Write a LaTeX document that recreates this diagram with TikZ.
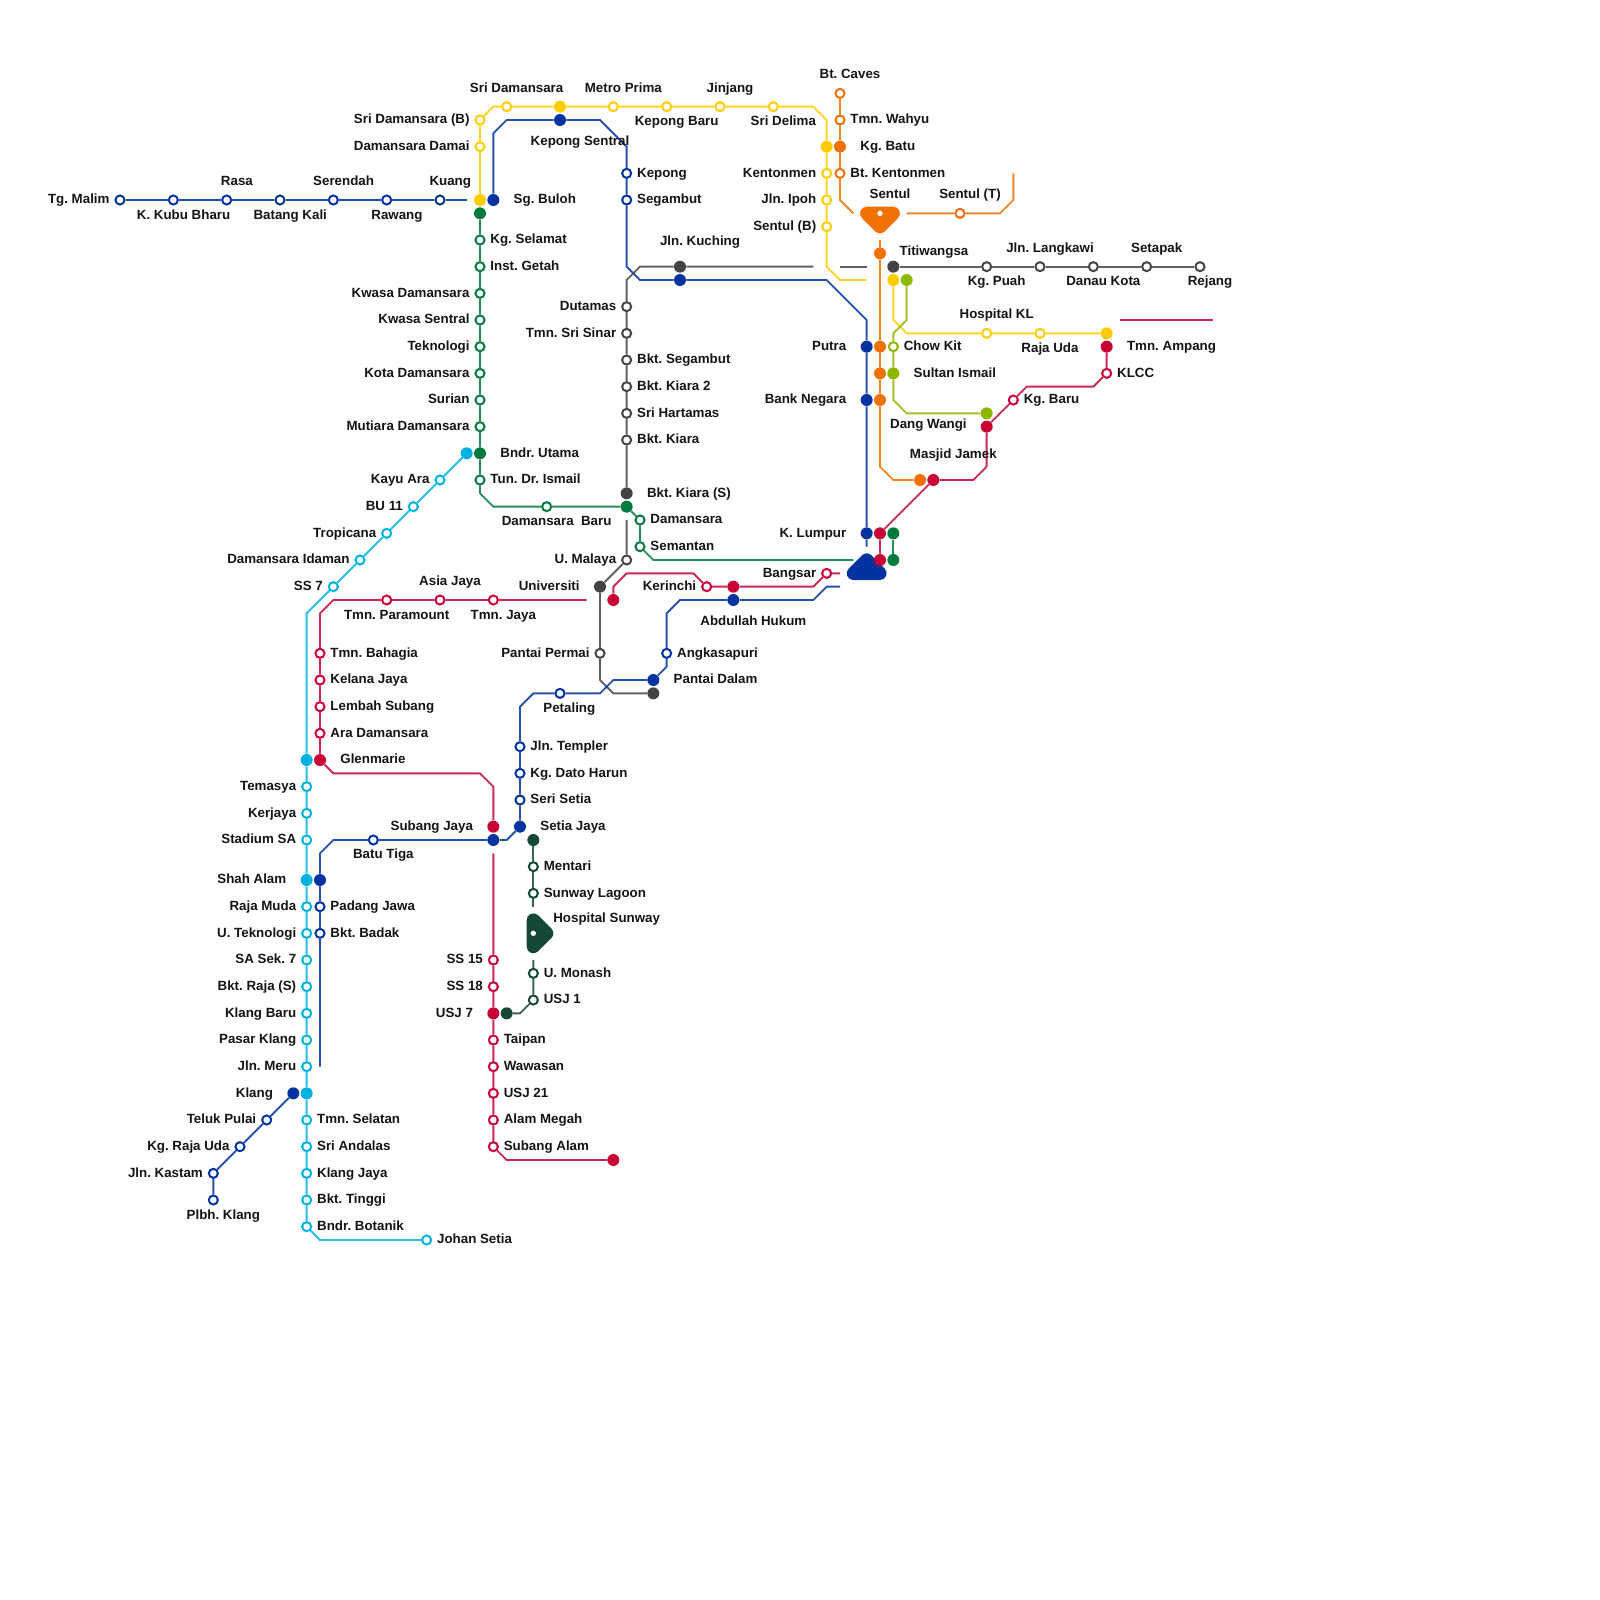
\documentclass[tikz,border=0pt]{standalone}
\usepackage{fontspec}
\setmainfont{Liberation Sans}
\frenchspacing
\usepackage{tikz}
\usetikzlibrary{positioning}
\definecolor{colBlue}{RGB}{0,51,160}
\definecolor{colYellow}{RGB}{255,204,0}
\definecolor{colOrange}{RGB}{240,112,0}
\definecolor{colGreen}{RGB}{0,122,61}
\definecolor{colRed}{RGB}{200,0,54}
\definecolor{colCyan}{RGB}{0,178,227}
\definecolor{colGrey}{RGB}{68,68,68}
\definecolor{colLime}{RGB}{140,184,0}
\definecolor{colForest}{RGB}{20,72,52}
\tikzset{
  ring/.style   = {circle, draw=#1, fill=white, line width=1.5pt,
                   minimum size=6.8pt, inner sep=0pt},
  fdot/.style   = {circle, fill=#1, minimum size=9pt, inner sep=0pt},
  route/.style  = {draw=#1, line width=1.4pt, draw opacity=0.85},
  hub/.style    = {draw=#1, fill=#1, line width=10pt, line join=round},
  hubdot/.style = {circle, fill=white, minimum size=4pt, inner sep=0pt},
  txt/.style    = {font=\bfseries\fontsize{10}{10}\selectfont, text=black!92,
                   inner sep=0pt, outer sep=0pt, text height=7.5pt,
                   text depth=2pt},
}
\begin{document}
\begin{tikzpicture}[x=10pt, y=-10pt]
\useasboundingbox (0,0) rectangle (120,120);

%% Interchange shapes
\draw[hub=colOrange] (65,16) -- (67,16) -- (66,17) -- cycle;
\draw[hub=colBlue]   (64,43) -- (66,43) -- (65,42) -- cycle;
\draw[hub=colForest] (40,69) -- (40,71) -- (41,70) -- cycle;
\node[hubdot] (sentulhub) at (66,16) {};
\node[hubdot] (sunwayhub) at (40,70) {};

%% Tg. Malim branch
\node[ring=colBlue] (tgmalim)  at (9,15)  {};
\node[ring=colBlue] (kkubu)    at (13,15) {};
\node[ring=colBlue] (rasa)     at (17,15) {};
\node[ring=colBlue] (batang)   at (21,15) {};
\node[ring=colBlue] (serendah) at (25,15) {};
\node[ring=colBlue] (rawang)   at (29,15) {};
\node[ring=colBlue] (kuang)    at (33,15) {};
\coordinate (kuangend) at (35,15);

%% Yellow line
\node[fdot=colYellow] (sgbulohY)  at (36,15) {};
\node[ring=colYellow] (damdamai)  at (36,11) {};
\node[ring=colYellow] (sridamb)   at (36,9)  {};
\node[ring=colYellow] (srigreen)  at (38,8)  {};
\node[fdot=colYellow] (sridam)    at (42,8)  {};
\node[ring=colYellow] (metro)     at (46,8)  {};
\node[ring=colYellow] (kepbaru)   at (50,8)  {};
\node[ring=colYellow] (jinjang)   at (54,8)  {};
\node[ring=colYellow] (delima)    at (58,8)  {};
\node[fdot=colYellow] (kgbatuY)   at (62,11) {};
\node[ring=colYellow] (kenton)    at (62,13) {};
\node[ring=colYellow] (ipoh)      at (62,15) {};
\node[ring=colYellow] (sentulb)   at (62,17) {};
\coordinate (yellowend) at (65,21);
\node[fdot=colYellow] (titiY)     at (67,21) {};
\node[ring=colYellow] (hospkl)    at (74,25) {};
\node[ring=colYellow] (rajauda)   at (78,25) {};
\node[fdot=colYellow] (ampangY)   at (83,25) {};

%% Kepong line
\node[fdot=colBlue] (sgbulohB) at (37,15) {};
\node[fdot=colBlue] (kepsen)   at (42,9)  {};
\node[ring=colBlue] (kepong)   at (47,13) {};
\node[ring=colBlue] (segambut) at (47,15) {};
\node[fdot=colBlue] (kuchingB) at (51,21) {};
\node[fdot=colBlue] (putraB)   at (65,26) {};
\node[fdot=colBlue] (negaraB)  at (65,30) {};
\node[fdot=colBlue] (lumpurB)  at (65,40) {};
\coordinate (blueend) at (65,41);

%% Grey line
\node[fdot=colGrey] (kuchingK) at (51,20) {};
\node[ring=colGrey] (dutamas)  at (47,23) {};
\node[ring=colGrey] (srisinar) at (47,25) {};
\node[ring=colGrey] (bktseg)   at (47,27) {};
\node[ring=colGrey] (kiaradua) at (47,29) {};
\node[ring=colGrey] (hartamas) at (47,31) {};
\node[ring=colGrey] (kiara)    at (47,33) {};
\node[fdot=colGrey] (kiaras)   at (47,37) {};
\coordinate (greyend)  at (61,20);
\coordinate (greygapa) at (63,20);
\coordinate (greygapb) at (65,20);
\coordinate (greytop)  at (47,39);
\node[ring=colGrey] (umalaya)  at (47,42) {};
\node[fdot=colGrey] (univ)     at (45,44) {};
\node[ring=colGrey] (ppermai)  at (45,49) {};
\node[fdot=colGrey] (pdalamK)  at (49,52) {};
\node[fdot=colGrey] (titiK)    at (67,20) {};
\node[ring=colGrey] (kgpuah)   at (74,20) {};
\node[ring=colGrey] (langkawi) at (78,20) {};
\node[ring=colGrey] (danau)    at (82,20) {};
\node[ring=colGrey] (setapak)  at (86,20) {};
\node[ring=colGrey] (rejang)   at (90,20) {};

%% Green line
\node[fdot=colGreen] (sgbulohG) at (36,16) {};
\node[ring=colGreen] (selamat)  at (36,18) {};
\node[ring=colGreen] (getah)    at (36,20) {};
\node[ring=colGreen] (kwasad)   at (36,22) {};
\node[ring=colGreen] (kwasas)   at (36,24) {};
\node[ring=colGreen] (teknologi) at (36,26) {};
\node[ring=colGreen] (kotad)    at (36,28) {};
\node[ring=colGreen] (surian)   at (36,30) {};
\node[ring=colGreen] (mutiara)  at (36,32) {};
\node[fdot=colGreen] (bndrG)    at (36,34) {};
\node[ring=colGreen] (tunismail) at (36,36) {};
\node[ring=colGreen] (dambaru)  at (41,38) {};
\node[fdot=colGreen] (kiarasG)  at (47,38) {};
\node[ring=colGreen] (damansara) at (48,39) {};
\node[ring=colGreen] (semantan) at (48,41) {};
\coordinate (greenend) at (64,42);
\node[fdot=colGreen] (lumpurG)  at (67,40) {};
\node[fdot=colGreen] (lumpurH)  at (67,42) {};

%% Red line
\node[fdot=colRed] (ampangR)  at (83,26) {};
\node[ring=colRed] (klcc)     at (83,28) {};
\node[ring=colRed] (kgbaru)   at (76,30) {};
\node[fdot=colRed] (wangiR)   at (74,32) {};
\node[fdot=colRed] (jamekR)   at (70,36) {};
\node[fdot=colRed] (lumpurR)  at (66,40) {};
\node[fdot=colRed] (lumpurS)  at (66,42) {};
\coordinate (redstuba) at (84,24);
\coordinate (redstubb) at (91,24);
\coordinate (bangsarend) at (63,43);
\node[ring=colRed] (bangsar)  at (62,43) {};
\node[fdot=colRed] (hukumR)   at (55,44) {};
\node[ring=colRed] (kerinchi) at (53,44) {};
\node[fdot=colRed] (univR)    at (46,45) {};
\coordinate (univend) at (44,45);
\node[ring=colRed] (tmnjaya)  at (37,45) {};
\node[ring=colRed] (asiajaya) at (33,45) {};
\node[ring=colRed] (paramount) at (29,45) {};
\node[ring=colRed] (bahagia)  at (24,49) {};
\node[ring=colRed] (kelana)   at (24,51) {};
\node[ring=colRed] (lembah)   at (24,53) {};
\node[ring=colRed] (aradam)   at (24,55) {};
\node[fdot=colRed] (glenmarie) at (24,57) {};
\node[fdot=colRed] (subangR)  at (37,62) {};
\coordinate (redgap) at (37,64);
\node[ring=colRed] (ssff)     at (37,72) {};
\node[ring=colRed] (sse)      at (37,74) {};
\node[fdot=colRed] (usjs)     at (37,76) {};
\node[ring=colRed] (taipan)   at (37,78) {};
\node[ring=colRed] (wawasan)  at (37,80) {};
\node[ring=colRed] (usjto)    at (37,82) {};
\node[ring=colRed] (megah)    at (37,84) {};
\node[ring=colRed] (subalam)  at (37,86) {};
\node[fdot=colRed] (putraR)   at (46,87) {};

%% Kelana line
\coordinate (hukumend) at (63,44);
\node[fdot=colBlue] (hukumB)  at (55,45) {};
\node[ring=colBlue] (angkasa) at (50,49) {};
\node[fdot=colBlue] (pdalamB) at (49,51) {};
\node[ring=colBlue] (petaling) at (42,52) {};
\node[ring=colBlue] (templer) at (39,56) {};
\node[ring=colBlue] (harun)   at (39,58) {};
\node[ring=colBlue] (seri)    at (39,60) {};
\node[fdot=colBlue] (setia)   at (39,62) {};
\node[fdot=colBlue] (subangB) at (37,63) {};
\node[ring=colBlue] (batutiga) at (28,63) {};
\node[fdot=colBlue] (shahB)   at (24,66) {};
\node[ring=colBlue] (padang)  at (24,68) {};
\node[ring=colBlue] (badak)   at (24,70) {};
\coordinate (kelanaend) at (24,80);

%% Klang branch
\node[fdot=colBlue] (klangB)  at (22,82) {};
\node[ring=colBlue] (teluk)   at (20,84) {};
\node[ring=colBlue] (rajaudaB) at (18,86) {};
\node[ring=colBlue] (kastam)  at (16,88) {};
\node[ring=colBlue] (plbh)    at (16,90) {};

%% Cyan line
\node[fdot=colCyan] (bndrC)   at (35,34) {};
\node[ring=colCyan] (kayuara) at (33,36) {};
\node[ring=colCyan] (buse)    at (31,38) {};
\node[ring=colCyan] (tropicana) at (29,40) {};
\node[ring=colCyan] (idaman)  at (27,42) {};
\node[ring=colCyan] (sss)     at (25,44) {};
\node[fdot=colCyan] (glenC)   at (23,57) {};
\node[ring=colCyan] (temasya) at (23,59) {};
\node[ring=colCyan] (kerjaya) at (23,61) {};
\node[ring=colCyan] (stadium) at (23,63) {};
\node[fdot=colCyan] (shahC)   at (23,66) {};
\node[ring=colCyan] (muda)    at (23,68) {};
\node[ring=colCyan] (uteknologi) at (23,70) {};
\node[ring=colCyan] (sasek)   at (23,72) {};
\node[ring=colCyan] (bktraja) at (23,74) {};
\node[ring=colCyan] (klbaru)  at (23,76) {};
\node[ring=colCyan] (pasar)   at (23,78) {};
\node[ring=colCyan] (meru)    at (23,80) {};
\node[fdot=colCyan] (klangC)  at (23,82) {};
\node[ring=colCyan] (selatan) at (23,84) {};
\node[ring=colCyan] (andalas) at (23,86) {};
\node[ring=colCyan] (kljaya)  at (23,88) {};
\node[ring=colCyan] (tinggi)  at (23,90) {};
\node[ring=colCyan] (botanik) at (23,92) {};
\node[ring=colCyan] (johan)   at (32,93) {};

%% Sunway line
\node[fdot=colForest] (setiaF)  at (40,63) {};
\node[ring=colForest] (mentari) at (40,65) {};
\node[ring=colForest] (lagoon)  at (40,67) {};
\coordinate (sunwaytop) at (40,68);
\coordinate (sunwaylow) at (40,72);
\node[ring=colForest] (monash)  at (40,73) {};
\node[ring=colForest] (usjone)  at (40,75) {};
\node[fdot=colForest] (usjF)    at (38,76) {};

%% Orange line
\node[ring=colOrange] (caves)   at (63,7)  {};
\node[ring=colOrange] (wahyu)   at (63,9)  {};
\node[fdot=colOrange] (kgbatu)  at (63,11) {};
\node[ring=colOrange] (bktkent) at (63,13) {};
\coordinate (hubwest)  at (64,16);
\coordinate (hubeast)  at (68,16);
\node[ring=colOrange] (sentult) at (72,16) {};
\coordinate (sentulend) at (76,13);
\coordinate (hubsouth) at (66,18);
\node[fdot=colOrange] (titiO)   at (66,19) {};
\node[fdot=colOrange] (putraO)  at (66,26) {};
\node[fdot=colOrange] (ismailO) at (66,28) {};
\node[fdot=colOrange] (negaraO) at (66,30) {};
\node[fdot=colOrange] (jamekO)  at (69,36) {};

%% Lime line
\node[fdot=colLime] (titiL)   at (68,21) {};
\node[ring=colLime] (chowkit) at (67,26) {};
\node[fdot=colLime] (ismailL) at (67,28) {};
\node[fdot=colLime] (wangiL)  at (74,31) {};

%% Routes
\draw[route=colBlue] (tgmalim) -- (kkubu) -- (rasa) -- (batang) -- (serendah)
  -- (rawang) -- (kuang) -- (kuangend);
\draw[route=colYellow] (sgbulohY) -- (damdamai) -- (sridamb) -- (37,8) -- (srigreen)
  -- (sridam) -- (metro) -- (kepbaru) -- (jinjang) -- (delima) -- (61,8) -- (62,9)
  -- (kgbatuY) -- (kenton) -- (ipoh) -- (sentulb) -- (62,20) -- (63,21) -- (yellowend);
\draw[route=colYellow] (titiY) -- (67,24) -- (68,25) -- (hospkl) -- (rajauda) -- (ampangY);
\draw[route=colBlue] (sgbulohB) -- (37,10) -- (38,9) -- (kepsen) -- (45,9) -- (47,11)
  -- (kepong) -- (segambut) -- (47,20) -- (48,21) -- (kuchingB) -- (62,21) -- (65,24)
  -- (putraB) -- (negaraB) -- (lumpurB) -- (blueend);
\draw[route=colGrey] (greyend) -- (kuchingK) -- (48,20) -- (47,21) -- (dutamas)
  -- (srisinar) -- (bktseg) -- (kiaradua) -- (hartamas) -- (kiara) -- (kiaras);
\draw[route=colGrey] (greygapa) -- (greygapb);
\draw[route=colGrey] (greytop) -- (umalaya) -- (univ) -- (ppermai) -- (45,51) -- (46,52)
  -- (pdalamK);
\draw[route=colGrey] (titiK) -- (kgpuah) -- (langkawi) -- (danau) -- (setapak) -- (rejang);
\draw[route=colGreen] (sgbulohG) -- (selamat) -- (getah) -- (kwasad) -- (kwasas)
  -- (teknologi) -- (kotad) -- (surian) -- (mutiara) -- (bndrG) -- (tunismail)
  -- (36,37) -- (37,38) -- (dambaru) -- (kiarasG) -- (damansara) -- (semantan)
  -- (49,42) -- (greenend);
\draw[route=colGreen] (lumpurG) -- (lumpurH);
\draw[route=colRed] (ampangR) -- (klcc) -- (82,29) -- (77,29) -- (kgbaru) -- (wangiR)
  -- (74,35) -- (73,36) -- (jamekR) -- (lumpurR) -- (lumpurS);
\draw[route=colRed] (redstuba) -- (redstubb);
\draw[route=colRed] (bangsarend) -- (bangsar) -- (61,44) -- (hukumR) -- (kerinchi)
  -- (52,43) -- (47,43) -- (46,44) -- (univR);
\draw[route=colRed] (univend) -- (tmnjaya) -- (asiajaya) -- (paramount) -- (25,45)
  -- (24,46) -- (bahagia) -- (kelana) -- (lembah) -- (aradam) -- (glenmarie) -- (25,58)
  -- (36,58) -- (37,59) -- (subangR);
\draw[route=colRed] (redgap) -- (ssff) -- (sse) -- (usjs) -- (taipan) -- (wawasan)
  -- (usjto) -- (megah) -- (subalam) -- (38,87) -- (putraR);
\draw[route=colBlue] (hukumend) -- (62,44) -- (61,45) -- (hukumB) -- (51,45) -- (50,46)
  -- (angkasa) -- (50,50) -- (pdalamB) -- (46,51) -- (45,52) -- (petaling) -- (40,52)
  -- (39,53) -- (templer) -- (harun) -- (seri) -- (setia) -- (38,63) -- (subangB)
  -- (batutiga) -- (25,63) -- (24,64) -- (shahB) -- (padang) -- (badak) -- (kelanaend);
\draw[route=colBlue] (klangB) -- (teluk) -- (rajaudaB) -- (kastam) -- (plbh);
\draw[route=colCyan] (bndrC) -- (kayuara) -- (buse) -- (tropicana) -- (idaman) -- (sss)
  -- (23,46) -- (glenC) -- (temasya) -- (kerjaya) -- (stadium) -- (shahC) -- (muda)
  -- (uteknologi) -- (sasek) -- (bktraja) -- (klbaru) -- (pasar) -- (meru) -- (klangC)
  -- (selatan) -- (andalas) -- (kljaya) -- (tinggi) -- (botanik) -- (24,93) -- (johan);
\draw[route=colForest] (setiaF) -- (mentari) -- (lagoon) -- (sunwaytop);
\draw[route=colForest] (sunwaylow) -- (monash) -- (usjone) -- (39,76) -- (usjF);
\draw[route=colOrange] (caves) -- (wahyu) -- (kgbatu) -- (bktkent) -- (63,15) -- (hubwest);
\draw[route=colOrange] (hubeast) -- (sentult) -- (75,16) -- (76,15) -- (sentulend);
\draw[route=colOrange] (hubsouth) -- (titiO) -- (putraO) -- (ismailO) -- (negaraO)
  -- (66,35) -- (67,36) -- (jamekO);
\draw[route=colLime] (titiL) -- (68,24) -- (67,25) -- (chowkit) -- (ismailL) -- (67,30)
  -- (68,31) -- (wangiL);

%% Labels, right
\node[txt, right=3.7pt of selamat]   (tselamat)  {Kg. Selamat};
\node[txt, right=3.7pt of getah]     (tgetah)    {Inst. Getah};
\node[txt, right=3.7pt of tunismail] (ttun)      {Tun. Dr. Ismail};
\node[txt, right=3.7pt of kepong]    (tkepong)   {Kepong};
\node[txt, right=3.7pt of segambut]  (tsegambut) {Segambut};
\node[txt, right=3.7pt of bktseg]    (tbktseg)   {Bkt. Segambut};
\node[txt, right=3.7pt of kiaradua]  (tkiaradua) {Bkt. Kiara 2};
\node[txt, right=3.7pt of hartamas]  (thartamas) {Sri Hartamas};
\node[txt, right=3.7pt of kiara]     (tkiara)    {Bkt. Kiara};
\node[txt, right=3.7pt of damansara] (tdamansara) {Damansara};
\node[txt, right=3.7pt of semantan]  (tsemantan) {Semantan};
\node[txt, right=3.7pt of wahyu]     (twahyu)    {Tmn. Wahyu};
\node[txt, right=3.7pt of bktkent]   (tbktkent)  {Bt. Kentonmen};
\node[txt, right=3.7pt of chowkit]   (tchowkit)  {Chow Kit};
\node[txt, right=3.7pt of klcc]      (tklcc)     {KLCC};
\node[txt, right=3.7pt of kgbaru]    (tkgbaru)   {Kg. Baru};
\node[txt, right=3.7pt of angkasa]   (tangkasa)  {Angkasapuri};
\node[txt, right=3.7pt of templer]   (ttempler)  {Jln. Templer};
\node[txt, right=3.7pt of harun]     (tharun)    {Kg. Dato Harun};
\node[txt, right=3.7pt of seri]      (tseri)     {Seri Setia};
\node[txt, right=3.7pt of mentari]   (tmentari)  {Mentari};
\node[txt, right=3.7pt of lagoon]    (tlagoon)   {Sunway Lagoon};
\node[txt, right=3.7pt of monash]    (tmonash)   {U. Monash};
\node[txt, right=3.7pt of usjone]    (tusjone)   {USJ 1};
\node[txt, right=3.7pt of padang]    (tpadang)   {Padang Jawa};
\node[txt, right=3.7pt of badak]     (tbadak)    {Bkt. Badak};
\node[txt, right=3.7pt of taipan]    (ttaipan)   {Taipan};
\node[txt, right=3.7pt of wawasan]   (twawasan)  {Wawasan};
\node[txt, right=3.7pt of usjto]     (tusjto)    {USJ 21};
\node[txt, right=3.7pt of megah]     (tmegah)    {Alam Megah};
\node[txt, right=3.7pt of subalam]   (tsubalam)  {Subang Alam};
\node[txt, right=3.7pt of selatan]   (tselatan)  {Tmn. Selatan};
\node[txt, right=3.7pt of andalas]   (tandalas)  {Sri Andalas};
\node[txt, right=3.7pt of kljaya]    (tkljaya)   {Klang Jaya};
\node[txt, right=3.7pt of tinggi]    (ttinggi)   {Bkt. Tinggi};
\node[txt, right=3.7pt of botanik]   (tbotanik)  {Bndr. Botanik};
\node[txt, right=3.7pt of johan]     (tjohan)    {Johan Setia};
\node[txt, right=3.7pt of bahagia]   (tbahagia)  {Tmn. Bahagia};
\node[txt, right=3.7pt of kelana]    (tkelana)   {Kelana Jaya};
\node[txt, right=3.7pt of lembah]    (tlembah)   {Lembah Subang};
\node[txt, right=3.7pt of aradam]    (taradam)   {Ara Damansara};
\node[txt, right=10.6pt of sgbulohB] (tsgbuloh) {Sg. Buloh};
\node[txt, right=10.6pt of bndrG]    (tbndr)    {Bndr. Utama};
\node[txt, right=10.6pt of kiaras]   (tkiaras)  {Bkt. Kiara (S)};
\node[txt, right=10.6pt of kgbatu]   (tkgbatu)  {Kg. Batu};
\node[txt, right=10.6pt of ampangR]  (tampang)  {Tmn. Ampang};
\node[txt, right=10.6pt of ismailL]  (tismail)  {Sultan Ismail};
\node[txt, right=10.6pt of setia]    (tsetia)   {Setia Jaya};
\node[txt, right=10.6pt of glenmarie] (tglen)   {Glenmarie};
\node[txt, right=10.6pt of pdalamB]  (tpdalam)  {Pantai Dalam};

%% Labels, left
\node[txt, left=3.7pt of tgmalim]   (ttgmalim)  {Tg. Malim};
\node[txt, left=3.7pt of sridamb]   (tsridamb)  {Sri Damansara (B)};
\node[txt, left=3.7pt of damdamai]  (tdamdamai) {Damansara Damai};
\node[txt, left=3.7pt of kenton]    (tkenton)   {Kentonmen};
\node[txt, left=3.7pt of ipoh]      (tipoh)     {Jln. Ipoh};
\node[txt, left=3.7pt of sentulb]   (tsentulb)  {Sentul (B)};
\node[txt, left=3.7pt of kwasad]    (tkwasad)   {Kwasa Damansara};
\node[txt, left=3.7pt of kwasas]    (tkwasas)   {Kwasa Sentral};
\node[txt, left=3.7pt of teknologi] (tteknologi) {Teknologi};
\node[txt, left=3.7pt of kotad]     (tkotad)    {Kota Damansara};
\node[txt, left=3.7pt of surian]    (tsurian)   {Surian};
\node[txt, left=3.7pt of mutiara]   (tmutiara)  {Mutiara Damansara};
\node[txt, left=3.7pt of dutamas]   (tdutamas)  {Dutamas};
\node[txt, left=3.7pt of srisinar]  (tsrisinar) {Tmn. Sri Sinar};
\node[txt, left=3.7pt of umalaya]   (tumalaya)  {U. Malaya};
\node[txt, left=3.7pt of kayuara]   (tkayuara)  {Kayu Ara};
\node[txt, left=3.7pt of buse]      (tbuse)     {BU 11};
\node[txt, left=3.7pt of tropicana] (ttropicana) {Tropicana};
\node[txt, left=3.7pt of idaman]    (tidaman)   {Damansara Idaman};
\node[txt, left=3.7pt of sss]       (tsss)      {SS 7};
\node[txt, left=3.7pt of ppermai]   (tppermai)  {Pantai Permai};
\node[txt, left=3.7pt of kerinchi]  (tkerinchi) {Kerinchi};
\node[txt, left=3.7pt of bangsar]   (tbangsar)  {Bangsar};
\node[txt, left=3.7pt of temasya]   (ttemasya)  {Temasya};
\node[txt, left=3.7pt of kerjaya]   (tkerjaya)  {Kerjaya};
\node[txt, left=3.7pt of stadium]   (tstadium)  {Stadium SA};
\node[txt, left=3.7pt of muda]      (tmuda)     {Raja Muda};
\node[txt, left=3.7pt of uteknologi] (tuteknologi) {U. Teknologi};
\node[txt, left=3.7pt of sasek]     (tsasek)    {SA Sek. 7};
\node[txt, left=3.7pt of bktraja]   (tbktraja)  {Bkt. Raja (S)};
\node[txt, left=3.7pt of klbaru]    (tklbaru)   {Klang Baru};
\node[txt, left=3.7pt of pasar]     (tpasar)    {Pasar Klang};
\node[txt, left=3.7pt of meru]      (tmeru)     {Jln. Meru};
\node[txt, left=3.7pt of teluk]     (tteluk)    {Teluk Pulai};
\node[txt, left=3.7pt of rajaudaB]  (trajaudaB) {Kg. Raja Uda};
\node[txt, left=3.7pt of kastam]    (tkastam)   {Jln. Kastam};
\node[txt, left=3.7pt of ssff]      (tssff)     {SS 15};
\node[txt, left=3.7pt of sse]       (tsse)      {SS 18};
\node[txt, left=10.6pt of putraB]   (tputra)    {Putra};
\node[txt, left=10.6pt of negaraB]  (tnegara)   {Bank Negara};
\node[txt, left=10.6pt of lumpurB]  (tlumpur)   {K. Lumpur};
\node[txt, left=10.6pt of usjs]     (tusjs)     {USJ 7};
\node[txt, left=10.6pt of shahC]    (tshah)     {Shah Alam};
\node[txt, left=10.6pt of klangB]   (tklang)    {Klang};
\node[txt, left=10.6pt of univ]     (tuniv)     {Universiti};
\node[txt, left=10.6pt of subangR]  (tsubang)   {Subang Jaya};

%% Labels, above and below
\node[txt] (tkkubu)    at (13.77,16.15) {K. Kubu Bharu};
\node[txt] (trasa)     at (17.77,13.65) {Rasa};
\node[txt] (tbatang)   at (21.77,16.15) {Batang Kali};
\node[txt] (tserendah) at (25.77,13.65) {Serendah};
\node[txt] (trawang)   at (29.77,16.15) {Rawang};
\node[txt] (tkuang)    at (33.77,13.65) {Kuang};
\node[txt] (tsridam)   at (38.75,6.65)  {Sri Damansara};
\node[txt] (tmetro)    at (46.75,6.65)  {Metro Prima};
\node[txt] (tkepbaru)  at (50.75,9.15)  {Kepong Baru};
\node[txt] (tjinjang)  at (54.75,6.65)  {Jinjang};
\node[txt] (tdelima)   at (58.75,9.15)  {Sri Delima};
\node[txt] (tkepsen)   at (43.5,10.63)  {Kepong Sentral};
\node[txt] (tcaves)    at (63.75,5.63)  {Bt. Caves};
\node[txt] (tsentul)   at (66.75,14.63) {Sentul};
\node[txt] (tsentult)  at (72.75,14.63) {Sentul (T)};
\node[txt] (ttiti)     at (70.05,18.88) {Titiwangsa};
\node[txt] (tlangkawi) at (78.75,18.63) {Jln. Langkawi};
\node[txt] (tsetapak)  at (86.75,18.63) {Setapak};
\node[txt] (tkgpuah)   at (74.75,21.13) {Kg. Puah};
\node[txt] (tdanau)    at (82.75,21.13) {Danau Kota};
\node[txt] (trejang)   at (90.75,21.13) {Rejang};
\node[txt] (thospkl)   at (74.75,23.63) {Hospital KL};
\node[txt] (trajauda)  at (78.75,26.13) {Raja Uda};
\node[txt] (twangi)    at (69.63,31.88) {Dang Wangi};
\node[txt] (tjamek)    at (71.5,34.13)  {Masjid Jamek};
\node[txt] (tkuching)  at (52.5,18.13)  {Jln. Kuching};
\node[txt] (tdambaru)  at (41.75,39.13) {Damansara\ \ Baru};
\node[txt] (thukum)    at (56.5,46.63)  {Abdullah Hukum};
\node[txt] (tpetaling) at (42.7,53.13)  {Petaling};
\node[txt] (tbatutiga) at (28.75,64.13) {Batu Tiga};
\node[txt] (thospsun)  at (45.5,68.88)  {Hospital Sunway};
\node[txt] (tasiajaya) at (33.75,43.65) {Asia Jaya};
\node[txt] (tparamount) at (29.75,46.15) {Tmn. Paramount};
\node[txt] (ttmnjaya)  at (37.75,46.15) {Tmn. Jaya};
\node[txt] (tplbh)     at (16.75,91.15) {Plbh. Klang};

\end{tikzpicture}
\end{document}
